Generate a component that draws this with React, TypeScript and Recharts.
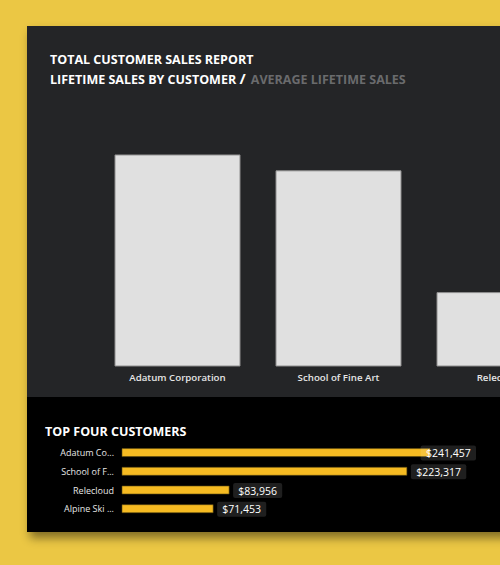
import React from 'react';
import { BarChart, Bar, XAxis, YAxis, LabelList } from 'recharts';

const customers = ['Adatum Corporation', 'School of Fine Art', 'Relecloud', 'Alpine Ski House'];
const shortLabels = ['Adatum Co...', 'School of F...', 'Relecloud', 'Alpine Ski ...'];
const lifetimeSales = [241457, 223317, 83956, 71453];

const data = customers.map((c, i) => ({ name: c, short: shortLabels[i], sales: lifetimeSales[i] }));

const FONT = '"Open Sans", "Noto Sans", sans-serif';
const fmt = (v: number) => '$' + v.toLocaleString('en-US');

const LABEL_MAX_RIGHT = 449;

const ValueLabel = (props: any) => {
  const { x, y, width, height, value } = props;
  const text = fmt(Number(value));
  const boxW = text.length * 6.3 + 5;
  const boxH = 15;
  let bx = x + width + 4;
  if (bx + boxW > LABEL_MAX_RIGHT) bx = LABEL_MAX_RIGHT - boxW;
  const cy = y + height / 2 + 0.5;
  return (
    <g>
      <rect x={bx} y={cy - boxH / 2} width={boxW} height={boxH} rx={2} ry={2} fill="#ffffff" fillOpacity={0.12} />
      <text x={bx + boxW / 2} y={cy} textAnchor="middle" dominantBaseline="central" fill="#ffffff" fontSize={10.5} fontFamily={FONT}>
        {text}
      </text>
    </g>
  );
};

export default function App() {
  return (
    <div style={{ position: 'fixed', left: 0, top: 0, width: 500, height: 565, overflow: 'hidden', background: '#EBC744' }}>
      <div
        style={{
          position: 'absolute',
          left: 27,
          top: 26,
          width: 720,
          height: 506,
          boxShadow: '3px 6px 9px rgba(0,0,0,0.45)',
        }}
      >
        <div style={{ position: 'absolute', left: 0, top: 0, width: 720, height: 371, background: '#242527' }}>
          <div style={{ position: 'absolute', left: 23, top: 25, fontFamily: FONT, fontWeight: 700, fontSize: 12.5, lineHeight: '18px', color: '#ffffff', whiteSpace: 'nowrap' }}>
            <div>TOTAL CUSTOMER SALES REPORT</div>
            <div>
              LIFETIME SALES BY CUSTOMER <span style={{ fontSize: 15 }}>/</span> <span style={{ color: '#6a6b6d', marginLeft: 2 }}>AVERAGE LIFETIME SALES</span>
            </div>
          </div>
          <div style={{ position: 'absolute', left: 0, top: 0 }}>
            <BarChart width={720} height={370} data={data} margin={{ top: 121.5, right: 6, bottom: 0, left: 70 }}>
              <XAxis
                dataKey="name"
                height={30}
                axisLine={false}
                tickLine={false}
                interval={0}
                tick={{ fill: '#e6e6e6', fontSize: 9.7, fontFamily: FONT, fontWeight: 600 }}
              />
              <YAxis hide domain={[0, 250000]} />
              <Bar dataKey="sales" barSize={125} fill="#e0e0e0" stroke="#8e8e8e" strokeWidth={1} isAnimationActive={false} />
            </BarChart>
          </div>
        </div>
        <div style={{ position: 'absolute', left: 0, top: 371, width: 720, height: 135, background: '#000000' }}>
          <div style={{ position: 'absolute', left: 18, top: 26, fontFamily: FONT, fontWeight: 700, fontSize: 12.5, color: '#ffffff', whiteSpace: 'nowrap' }}>
            TOP FOUR CUSTOMERS
          </div>
          <div style={{ position: 'absolute', left: 0, top: 0 }}>
            <BarChart
              layout="vertical"
              width={480}
              height={135}
              data={data}
              margin={{ top: 46.6, right: 27.8, bottom: 13.6, left: 0 }}
            >
              <XAxis type="number" hide domain={[0, 280000]} />
              <YAxis
                type="category"
                dataKey="short"
                width={95}
                axisLine={false}
                tickLine={false}
                interval={0}
                tick={{ fill: '#e6e6e6', fontSize: 9, fontFamily: FONT }}
              />
              <Bar dataKey="sales" barSize={8} fill="#F6BB22" stroke="#5a4a10" strokeWidth={0.6} isAnimationActive={false}>
                <LabelList dataKey="sales" content={<ValueLabel />} />
              </Bar>
            </BarChart>
          </div>
        </div>
      </div>
    </div>
  );
}
